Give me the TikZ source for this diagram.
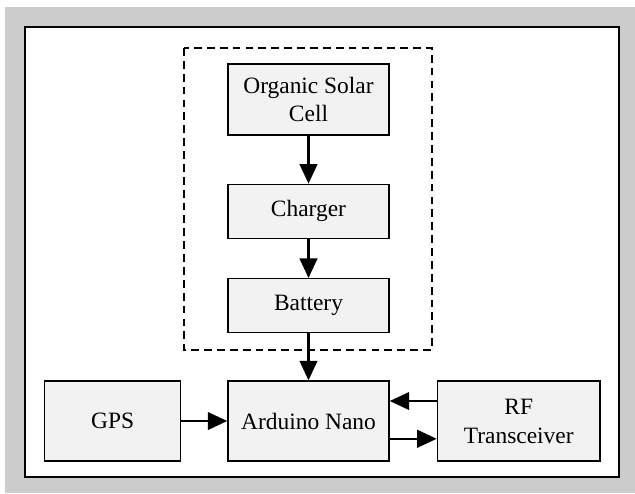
\documentclass[tikz,border=0pt]{standalone}
\usepackage{fontspec}
\setmainfont{Liberation Serif}
\usepackage{xcolor}
\usepackage{tikz}
\usetikzlibrary{arrows.meta}
\usetikzlibrary{positioning}
\tikzset{>={Triangle[length=10pt,width=9pt]}}
\definecolor{framegray}{HTML}{CCCCCC}
\definecolor{boxgray}{HTML}{F2F2F2}

\begin{document}
\begin{tikzpicture}[
		x=0.018cm, y=-0.018cm,
		font=\fontsize{12}{14.8}\selectfont,
		block/.style = {
			rectangle, draw, fill=boxgray,
			line width=0.7pt,
			align=center, inner sep=0pt,
			minimum width=2.9cm
		},
		flow/.style = {
			->, line width=1.2pt
		}
	]
	\useasboundingbox (0,0) rectangle (635,493);
	\fill[framegray] (5,7) rectangle (635,493);
	\draw[fill=white, line width=0.7pt] (25,27) rectangle (619,477);
	\draw[dash pattern=on 4pt off 2.6pt, line width=0.6pt] (184,48) rectangle (432,350);

	\node[block, minimum height=1.278cm] (cell) at (308.5,99.5) {Organic Solar\\Cell};
	\node[block, minimum height=0.972cm, below=0.864cm of cell] (charger) {Charger};
	\node[block, minimum height=0.972cm, below=0.702cm of charger] (battery) {Battery};
	\node[block, minimum height=1.44cm, below=0.846cm of battery] (nano) {Arduino Nano};
	\node[block, minimum height=1.44cm, minimum width=2.45cm, left=0.828cm of nano] (gps) {GPS};
	\node[block, minimum height=1.44cm, minimum width=2.93cm, right=0.846cm of nano] (rf) {RF\\Transceiver};

	\draw[flow] (cell) -- (charger);
	\draw[flow] (charger) -- (battery);
	\draw[flow] (battery) -- (nano);
	\draw[flow] (gps) -- (nano);
	\draw[flow] ([yshift=0.36cm]rf.west) -- ([yshift=0.36cm]nano.east);
	\draw[flow] ([yshift=-0.32cm]nano.east) -- ([yshift=-0.32cm]rf.west);
\end{tikzpicture}
\end{document}
